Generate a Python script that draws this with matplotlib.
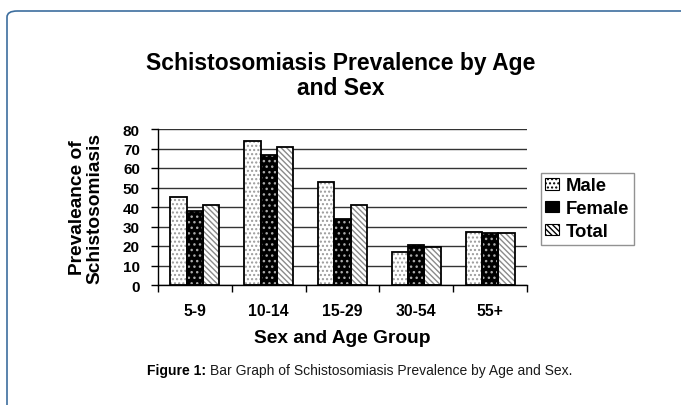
import numpy as np
import matplotlib
matplotlib.use('Agg')
from matplotlib import pyplot as plt
from matplotlib.patches import FancyBboxPatch

groups = ['5-9', '10-14', '15-29', '30-54', '55+']
male = [45, 74, 53, 17, 27.3]
female = [38, 66.7, 34, 20.3, 26.8]
total = [41, 71, 41, 19.5, 26.8]
yticks = [0, 10, 20, 30, 40, 50, 60, 70, 80]

plt.rcParams['font.family'] = ['Liberation Sans', 'DejaVu Sans']
plt.rcParams['hatch.linewidth'] = 1.0

fig = plt.figure(figsize=(6.81, 4.06), dpi=100)

# panel frame (rounded corner at top left, running off the page)
frame = FancyBboxPatch((7 / 681, -0.2), 1.2, 1 - 12 / 406 + 0.2,
                       boxstyle='round,pad=0,rounding_size=0.015',
                       transform=fig.transFigure, fill=False,
                       edgecolor='#3d6e9e', linewidth=1.2)
fig.patches.append(frame)

ax = fig.add_axes([158 / 681, 1 - 286 / 406, 369 / 681, 156 / 406])
x = np.arange(len(groups))
w = 0.222

def draw(xs, vals, face, hatch, hcol, label):
    ax.bar(xs, vals, w, color=face, hatch=hatch, edgecolor=hcol, linewidth=0, zorder=2)
    ax.bar(xs, vals, w, fill=False, edgecolor='black', linewidth=1.3, zorder=3)
    # legend proxy
    ax.bar([0], [0], 0, color=face, hatch=hatch, edgecolor='black', linewidth=0.8, label=label)

draw(x - w, male, 'white', '....', '#9a9a9a', 'Male')
draw(x, female, 'black', '...', '#aaaaaa', 'Female')
draw(x + w, total, 'white', '\\\\\\\\\\\\', '#8a8a8a', 'Total')

ax.set_xlim(-0.5, len(groups) - 0.5)
ax.set_ylim(0, 80)
ax.set_yticks(yticks)
ax.set_yticklabels([str(v) for v in yticks], fontsize=11, fontweight='bold')
ax.set_xticks(x)
ax.set_xticklabels(groups, fontsize=11.3, fontweight='bold')
ax.tick_params(axis='x', length=0, pad=13)
ax.set_xticks(np.arange(len(groups) + 1) - 0.5, minor=True)
ax.tick_params(axis='x', which='minor', length=5, width=1, direction='out')
ax.tick_params(axis='y', length=5, width=1, direction='out', pad=8)
ax.yaxis.grid(True, color='#333333', linewidth=1)
ax.set_axisbelow(True)
for s in ['top', 'right']:
    ax.spines[s].set_visible(False)
ax.spines['left'].set_linewidth(1)
ax.spines['bottom'].set_linewidth(1)

ax.set_xlabel('Sex and Age Group', fontsize=13.8, fontweight='bold', labelpad=8)
ax.set_ylabel('Prevaleance of\nSchistosomiasis', fontsize=13.8, fontweight='bold',
              labelpad=14, linespacing=1.05)

fig.text(0.5, 1 - 76 / 406, 'Schistosomiasis Prevalence by Age\nand Sex', ha='center', va='center',
         fontsize=16.5, fontweight='bold', linespacing=1.15)

leg = ax.legend(loc='center left', bbox_to_anchor=(1.037, 0.49), frameon=True, fancybox=False,
                prop={'weight': 'bold', 'size': 13.3}, handlelength=0.75, handleheight=0.6,
                handletextpad=0.35, borderpad=0.25, labelspacing=0.32, borderaxespad=0)
leg.get_frame().set_edgecolor('#777777')
leg.get_frame().set_linewidth(1)

t1 = fig.text(147 / 681, 1 - 371 / 406, 'Figure 1: ', fontsize=10, fontweight='bold',
              va='center')
r = fig.canvas.get_renderer()
bb = t1.get_window_extent(r)
fig.text(bb.x1 / 681, 1 - 371 / 406, 'Bar Graph of Schistosomiasis Prevalence by Age and Sex.',
         fontsize=10, va='center', color='#1a1a1a')

fig.savefig('out.png', dpi=100)
